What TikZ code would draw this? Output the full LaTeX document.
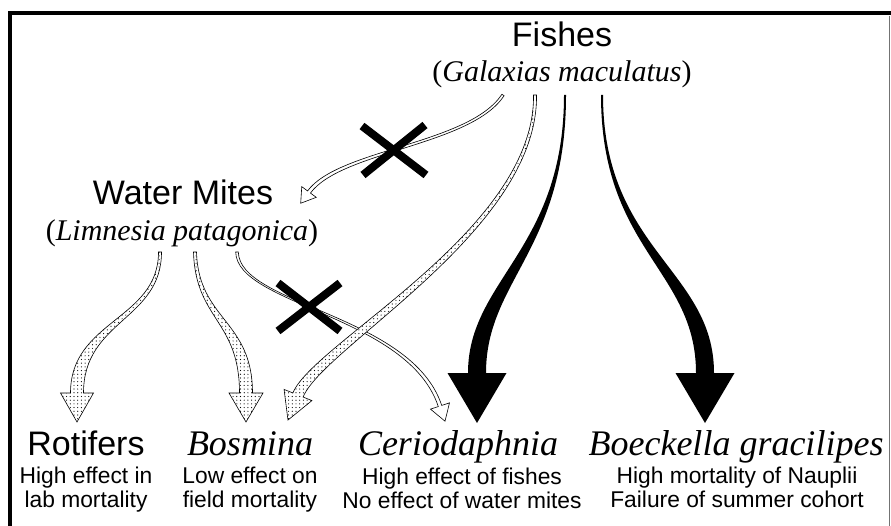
\documentclass[tikz,border=0pt]{standalone}
\usepackage{fontspec}
\setmainfont{Liberation Serif}
\setsansfont{Liberation Sans}
\usetikzlibrary{calc,patterns}

% tapered curved arrow: style, start, control 1, control 2, end, half width at start, half width at end, half head width, head length
\newcommand{\taperarrow}[9]{%
  \path[#1] ($(#2)!#6!90:(#3)$) .. controls ($(#3)!#6!-90:(#2)$) and ($(#4)!#7!90:(#5)$) .. ($(#5)!#7!-90:(#4)$)
    -- ($(#5)!#8!-90:(#4)$) -- ($(#5)!-#9!(#4)$) -- ($(#5)!#8!90:(#4)$) -- ($(#5)!#7!90:(#4)$)
    .. controls ($(#4)!#7!-90:(#5)$) and ($(#3)!#6!90:(#2)$) .. ($(#2)!#6!-90:(#3)$) -- cycle;}

% sparse stipple for the weak links
\pgfdeclarepatternformonly{stippledots}{\pgfqpoint{-1pt}{-1pt}}{\pgfqpoint{1pt}{1pt}}{\pgfqpoint{3.7pt}{3.7pt}}%
  {\pgfpathcircle{\pgfqpoint{0pt}{0pt}}{0.6pt}\pgfusepath{fill}}

\tikzset{
  bigname/.style={font=\sffamily\fontsize{34}{40}\selectfont,inner sep=0pt,anchor=base},
  latin/.style={font=\fontsize{30}{36}\selectfont,inner sep=0pt,anchor=base},
  prey/.style={font=\itshape\fontsize{36}{42}\selectfont,inner sep=0pt,anchor=base},
  note/.style={font=\sffamily\fontsize{22.8}{27}\selectfont,inner sep=0pt,anchor=base},
  noeffect/.style={line width=8pt},
  hollow/.style={draw=black,line width=0.6pt,fill=white},
  stipple/.style={draw=black,line width=0.6pt,preaction={fill=white},pattern=stippledots},
  strong/.style={fill=black}
}

\begin{document}
\begin{tikzpicture}[x=1pt,y=-1pt]
\useasboundingbox (0,0) rectangle (891,526);
% frame
\draw[line width=4pt] (10,526) -- (10,13.5) -- (891,13.5);
\draw[line width=1.2pt,black!55] (889.5,16) -- (889.5,526);

% predators
\node[bigname] (fishes) at (562,47) {Fishes};
\node[latin] (galaxias) at (562,82) {(\textit{Galaxias maculatus})};
\node[bigname] (mites) at (183,205) {Water Mites};
\node[latin] (limnesia) at (182,241) {(\textit{Limnesia patagonica})};

% prey
\node[bigname] (rotifers) at (86,455) {Rotifers};
\node[prey] (bosmina) at (250,455) {Bosmina};
\node[prey] (cerio) at (458,455) {Ceriodaphnia};
\node[prey] (boeckella) at (736,455) {Boeckella gracilipes};
\node[note] (rot1) at (86,483) {High effect in};
\node[note] (rot2) at (86,507) {lab mortality};
\node[note] (bos1) at (250,483) {Low effect on};
\node[note] (bos2) at (250,507) {field mortality};
\node[note] (cer1) at (462,484) {High effect of fishes};
\node[note] (cer2) at (462,508) {No effect of water mites};
\node[note] (boe1) at (737,483) {High mortality of Nauplii};
\node[note] (boe2) at (737,507) {Failure of summer cohort};

% arrow ends
\coordinate (fw) at (503,95);
\coordinate (fb) at (535,95);
\coordinate (fc) at (565,95);
\coordinate (fg) at (602,95);
\coordinate (wr) at (160,252);
\coordinate (wb) at (195,252);
\coordinate (wc) at (237,252);
\coordinate (mitesin) at (309,192);
\coordinate (rotin) at (77,393);
\coordinate (bosin) at (246,393);
\coordinate (bosfin) at (298,395);
\coordinate (cerin) at (440,406);
\coordinate (cerfin) at (477,373);
\coordinate (boein) at (705,373);

% links that were not found
\taperarrow{hollow}{fw}{470,145}{340,150}{mitesin}{1.3pt}{1.8pt}{9pt}{14pt}
\taperarrow{hollow}{wc}{238,305}{410,315}{cerin}{1.3pt}{1.8pt}{10pt}{16pt}
\draw[noeffect] (362,126) -- (426,175) (425,125) -- (363,175);
\draw[noeffect] (278,283) -- (340,331) (340,283) -- (278,331);

% weak links
\taperarrow{stipple}{wr}{160,320}{77,320}{rotin}{1.5pt}{6.5pt}{16.5pt}{29pt}
\taperarrow{stipple}{wb}{197,320}{246,320}{bosin}{1.5pt}{6.5pt}{17pt}{29pt}
\taperarrow{stipple}{fb}{537,230}{318,345}{bosfin}{1.5pt}{5.5pt}{15pt}{27pt}

% strong links
\taperarrow{strong}{fc}{565,250}{477,280}{cerfin}{1pt}{9pt}{29.5pt}{50pt}
\taperarrow{strong}{fg}{602,250}{705,270}{boein}{1pt}{9pt}{29.5pt}{50pt}
\end{tikzpicture}
\end{document}
